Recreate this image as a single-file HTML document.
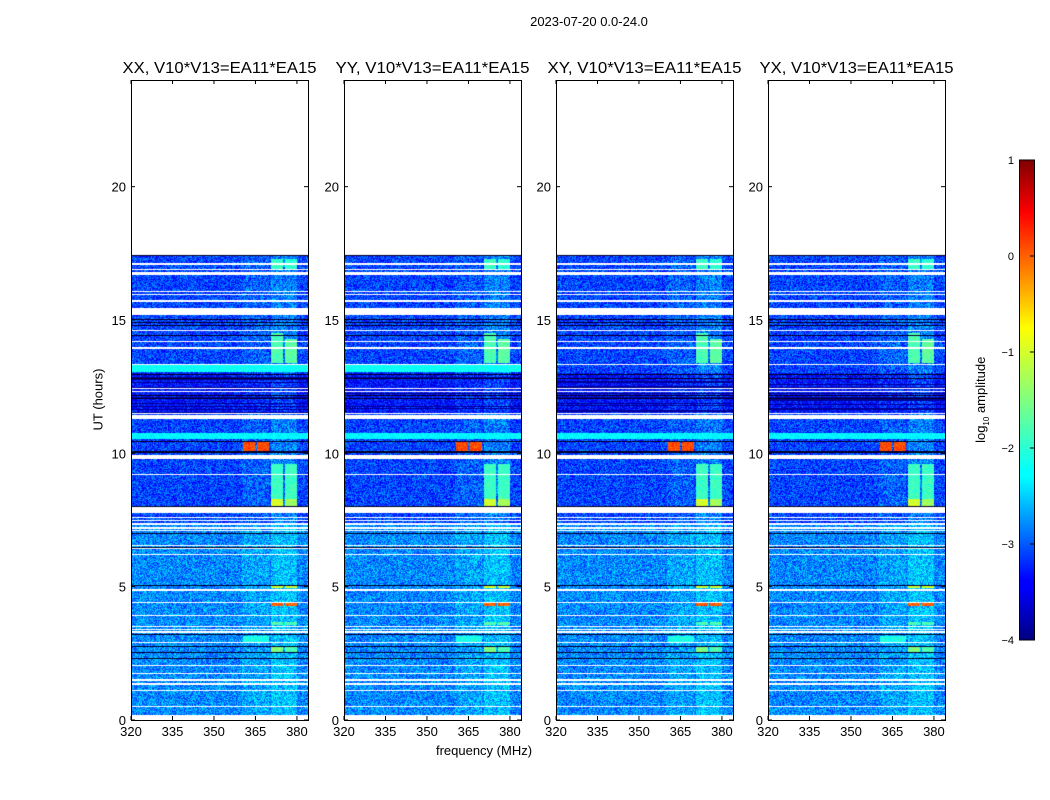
<!DOCTYPE html>
<html><head><meta charset="utf-8">
<style>
body{margin:0;background:#fff;font-family:"Liberation Sans",sans-serif;}
#root{position:relative;width:1050px;height:800px;overflow:hidden;background:#fff;}
.t{position:absolute;color:#000;white-space:nowrap;}
canvas{position:absolute;}
</style></head>
<body>
<div id="root">
<div class="t" style="left:489px;top:14px;font-size:13px;width:200px;text-align:center">2023-07-20 0.0-24.0</div>
<div class="t" style="left:384px;top:743px;font-size:13px;width:200px;text-align:center">frequency (MHz)</div>
<div class="t" style="left:48px;top:392px;font-size:13px;width:100px;text-align:center;transform:rotate(-90deg)">UT (hours)</div>
<div class="t" style="left:922px;top:391px;font-size:13px;width:120px;text-align:center;transform:rotate(-90deg)">log<sub style="font-size:8px">10</sub> amplitude</div>
<svg id="ov" width="1050" height="800" style="position:absolute;left:0;top:0"></svg>
</div>
<script>
// ---- data ----
const panelTitles = ["XX, V10*V13=EA11*EA15","YY, V10*V13=EA11*EA15","XY, V10*V13=EA11*EA15","YX, V10*V13=EA11*EA15"];
const panelLefts = [131,344,556,768];
const xTicks = [320,335,350,365,380];
const yTicks = [0,5,10,15,20];
const cbTicks = [1,0,-1,-2,-3,-4];
const dataStart = 0.18, dataEnd = 17.42;
// flagged (blank) rows [t0,t1]
const gapRows = [[17.05,17.12],[16.88,16.93],[16.68,16.8],[16.05,16.1],[15.95,15.99],[15.68,15.74],[15.2,15.45],[14.58,14.64],[14.18,14.23],[13.93,13.98],[13.3,13.34],[12.4,12.45],[12.3,12.34],[11.48,11.52],[11.3,11.42],[9.8,9.93],[9.18,9.24],[7.75,8.0],[7.58,7.63],[7.45,7.5],[7.32,7.37],[7.18,7.23],[7.08,7.12],[6.52,6.57],[6.4,6.45],[6.18,6.22],[4.85,4.9],[4.4,4.44],[3.9,3.95],[3.48,3.53],[3.38,3.43],[3.28,3.32],[2.88,2.93],[2.03,2.08],[1.73,1.78],[1.48,1.53],[1.33,1.38],[1.08,1.13],[0.48,0.53]];
// dark (near-zero) rows [t0,t1]
const darkRows = [[17.4,17.48],[15.0,15.03],[14.9,14.93],[14.78,14.8],[14.4,14.43],[12.95,12.98],[12.8,12.82],[12.62,12.65],[12.15,12.18],[12.05,12.08],[11.95,11.98],[11.8,11.83],[11.65,11.68],[10.44,10.48],[10.02,10.07],[8.0,8.04],[6.98,7.02],[6.85,6.88],[6.46,6.5],[5.03,5.08],[3.55,3.58],[3.2,3.24],[2.74,2.78],[2.5,2.54],[2.3,2.34]];
// bright bands (log amp) [t0,t1,value,panelsMask]
const brightRows = [[13.05,13.3,-2.2,[1,1,0,0]],[10.52,10.75,-2.3,[1,1,1,1]]];
// RFI blocks [t0,t1,f0,f1,value]
const blocks = [
 [10.1,10.42,360.5,365,0.1],[10.1,10.42,365.5,370,0.1],
 [8.0,9.6,370.5,375,-1.9],[8.0,9.6,375.8,380,-1.9],[8.0,8.3,370.5,375,-1.0],[8.0,8.3,375.8,380,-1.3],
 [13.4,14.5,370.5,375,-1.8],[13.4,14.3,375.8,380,-1.7],
 [16.9,17.3,370.5,375,-1.9],[16.9,17.3,375.8,380,-2.0],
 [4.95,5.05,370.5,375,-1.0],[4.95,5.05,375.8,380,-1.0],
 [4.28,4.4,370.5,375,0.0],[4.28,4.4,375.8,380,0.0],
 [3.58,3.68,370.5,375,-1.8],[3.58,3.68,375.8,380,-1.8],
 [2.55,2.72,370.5,375,-1.5],[2.55,2.72,375.8,380,-1.8],
 [2.9,3.15,360.5,370,-2.1]
];
// ---- geometry ----
const PT=80,PB=720,PW=177,F0=320,F1=384,H1=24;
const yOf=h=>PB-(h/H1)*(PB-PT);
const xOf=(l,f)=>l+(f-F0)/(F1-F0)*PW;
function jet(t){t=Math.max(0,Math.min(1,t));
 const S=[[0,0,0,.5],[.11,0,0,1],[.125,0,0,1],[.34,0,1,1],[.35,0,1,1],[.65,1,1,0],[.89,1,0,0],[1,.5,0,0]];
 for(let i=1;i<S.length;i++){if(t<=S[i][0]){const a=S[i-1],b=S[i],u=(t-a[0])/((b[0]-a[0])||1);return [0,1,2].map(k=>Math.round(255*(a[k+1]+(b[k+1]-a[k+1])*u)));}}
 return [128,0,0];}
function hash(x,y,p){let n=(x*374761393+y*668265263+p*1442695041)|0;n=(n^(n>>>13))*1274126177|0;return ((n^(n>>>16))>>>0)/4294967295;}
const inR=(h,r)=>h>=r[0]&&h<r[1];
const root=document.getElementById('root');
const ov=document.getElementById('ov');
const NS='http://www.w3.org/2000/svg';
function sv(tag,at,txt){const e=document.createElementNS(NS,tag);for(const k in at)e.setAttribute(k,at[k]);if(txt!==undefined)e.textContent=txt;ov.appendChild(e);return e;}
panelLefts.forEach((L,p)=>{
 const c=document.createElement('canvas');c.width=PW;c.height=PB-PT;c.style.left=L+'px';c.style.top=PT+'px';
 
 
 root.insertBefore(c,ov);
 const ctx=c.getContext('2d');const im=ctx.createImageData(PW,PB-PT);
 for(let py=0;py<PB-PT;py++){const h=(PB-PT-py-0.5)/(PB-PT)*H1;
  for(let px=0;px<PW;px++){const f=F0+(px+0.5)/PW*(F1-F0);const i=(py*PW+px)*4;let col;
   if(h<dataStart||h>dataEnd||gapRows.some(r=>inR(h,r))) col=[255,255,255];
   else if(darkRows.some(r=>inR(h,r))) col=[0,0,40];
   else{
    let v=-3.1; if(h<7.3)v=-2.8; if(h>11.5&&h<13.0)v=-3.35;
    if(f>360&&f<370)v+=0.12; if(f>370.5&&f<380)v+=0.25;
    v+=(hash(px,py,p)-0.5)*0.85;
    if(h>11.5&&h<13&&hash(py,7,p)>0.8)v=-3.9;
    brightRows.forEach(b=>{if(inR(h,b)&&b[3][p])v=b[2]+(hash(px,py,p)-0.5)*0.3;});
    blocks.forEach(b=>{if(h>=b[0]&&h<b[1]&&f>=b[2]&&f<b[3])v=b[4]+(hash(px,py,p+9)-0.5)*0.4;});
    col=jet((v+4)/5);
   }
   im.data[i]=col[0];im.data[i+1]=col[1];im.data[i+2]=col[2];im.data[i+3]=255;}}
 ctx.putImageData(im,0,0);
 const fr=sv('rect',{x:L+.5,y:PT+.5,width:PW,height:PB-PT,fill:'none',stroke:'#000','stroke-width':1});
 
 
 const tt=sv('text',{x:L+PW/2,y:73,'text-anchor':'middle','font-size':16,'font-family':'Liberation Sans',textLength:194,lengthAdjust:'spacingAndGlyphs'},panelTitles[p]);
 
 
 xTicks.forEach(t=>{const x=xOf(L,t);
  sv('line',{x1:x,x2:x,y1:PB,y2:PB-4,stroke:'#000'});sv('line',{x1:x,x2:x,y1:PT,y2:PT+4,stroke:'#000'});
  const e=sv('text',{x:x,y:PB+16,'text-anchor':'middle','font-size':13,'font-family':'Liberation Sans'},t);
  
  });
 yTicks.forEach(t=>{const y=yOf(t);
  sv('line',{x1:L,x2:L+4,y1:y,y2:y,stroke:'#000'});sv('line',{x1:L+PW,x2:L+PW-4,y1:y,y2:y,stroke:'#000'});
  const e=sv('text',{x:L-5,y:y+5,'text-anchor':'end','font-size':13,'font-family':'Liberation Sans'},t);
  
  });
});
// colorbar
const CB={x:1019,w:15,t:160,b:640};
const g=sv('defs',{});
g.innerHTML='<linearGradient id="jg" x1="0" y1="1" x2="0" y2="0"><stop offset="0" stop-color="#000080"/><stop offset=".11" stop-color="#0000ff"/><stop offset=".125" stop-color="#0000ff"/><stop offset=".34" stop-color="#00ffff"/><stop offset=".35" stop-color="#00ffff"/><stop offset=".65" stop-color="#ffff00"/><stop offset=".89" stop-color="#ff0000"/><stop offset="1" stop-color="#800000"/></linearGradient>';
const cb=sv('rect',{x:CB.x+.5,y:CB.t,width:CB.w,height:CB.b-CB.t,fill:'url(#jg)',stroke:'#000'});


cbTicks.forEach(t=>{const y=CB.b-(t+4)/5*(CB.b-CB.t);
 sv('line',{x1:CB.x+CB.w-4,x2:CB.x+CB.w,y1:y,y2:y,stroke:'#000'});
 const e=sv('text',{x:CB.x-5,y:y+4,'text-anchor':'end','font-size':11,'font-family':'Liberation Sans'},t<0?'\u2212'+(-t):t);
 
 });
</script>
</body></html>
